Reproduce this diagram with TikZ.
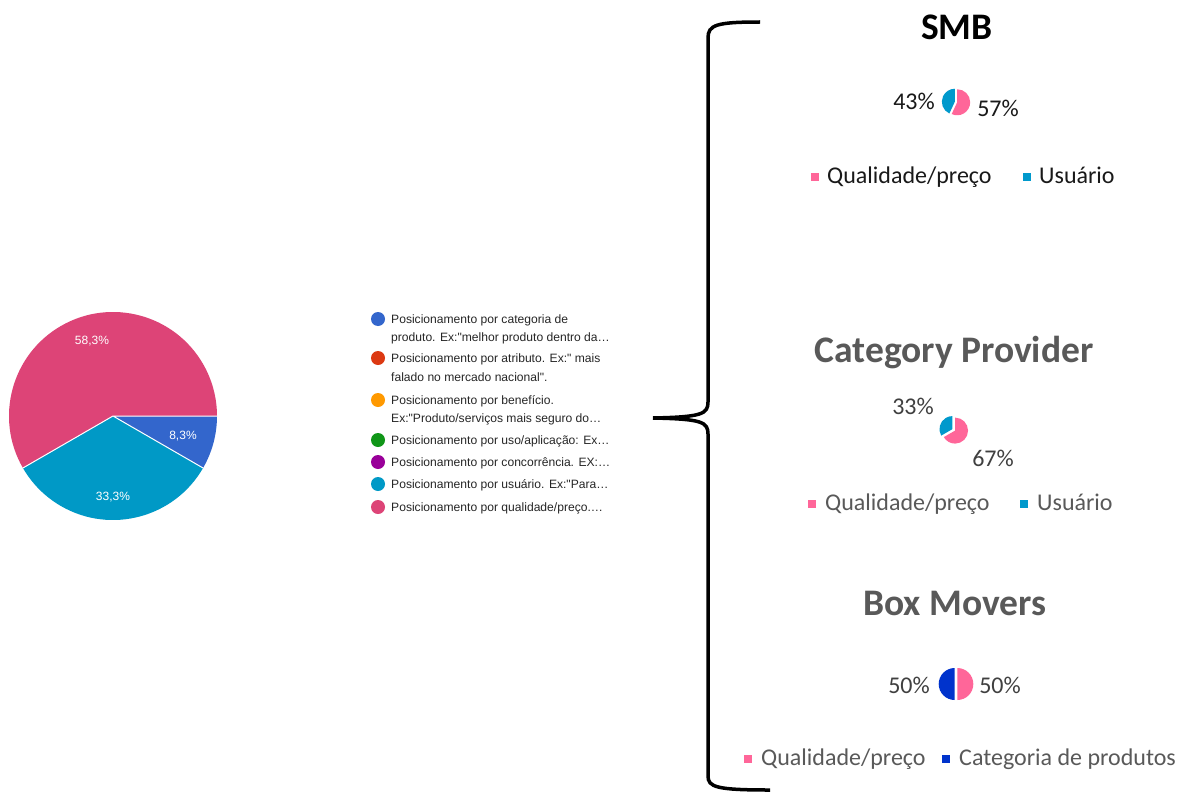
\documentclass[tikz,border=0pt]{standalone}
\usepackage{fontspec}
\setmainfont{Liberation Sans}
\newfontfamily\calfont{Carlito}
\newfontfamily\arialfont{Liberation Sans}
\definecolor{gblue}{HTML}{3366CC}
\definecolor{gred}{HTML}{DC3912}
\definecolor{gorange}{HTML}{FF9900}
\definecolor{ggreen}{HTML}{109618}
\definecolor{gpurple}{HTML}{990099}
\definecolor{gteal}{HTML}{0099C6}
\definecolor{gpink}{HTML}{DD4477}
\definecolor{mpink}{HTML}{FF6699}
\definecolor{mteal}{HTML}{0099CC}
\definecolor{mblue}{HTML}{0033CC}
\definecolor{dgray}{HTML}{404040}
\definecolor{tgray}{HTML}{595959}
\tikzset{
  piel/.style={text=white, font=\arialfont\fontsize{12}{14}\selectfont, inner sep=0pt},
  legl/.style={anchor=mid west, text=black!85, font=\arialfont\fontsize{12.1}{14}\selectfont, inner sep=0pt, yshift=-2pt},
  legdot/.style={circle, minimum size=14pt, inner sep=0pt},
  ttl/.style={font=\calfont\bfseries\fontsize{37.5}{42}\selectfont, inner sep=0pt},
  pct/.style={font=\calfont\fontsize{24}{28}\selectfont, inner sep=0pt},
  mleg/.style={anchor=mid west, font=\calfont\fontsize{24}{28}\selectfont, inner sep=0pt, yshift=-2pt},
  msq/.style={minimum size=8pt, inner sep=0pt},
}
\begin{document}
\begin{tikzpicture}[x=1pt,y=-1pt]
\useasboundingbox[fill=white] (0,0) rectangle (1191,792);

% big pie
\begin{scope}[shift={(113,416)},y=1pt]
\fill[gblue] (0,0) -- (0:104) arc[start angle=0,end angle=-30,radius=104] -- cycle;
\fill[gteal] (0,0) -- (-30:104) arc[start angle=-30,end angle=-150,radius=104] -- cycle;
\fill[gpink] (0,0) -- (-150:104) arc[start angle=-150,end angle=-360,radius=104] -- cycle;
\draw[white,line width=1pt] (0,0) -- (0:104) (0,0) -- (-30:104) (0,0) -- (-150:104);
\end{scope}
\node[piel] (p58) at (92,341) {58,3\%};
\node[piel] (p8) at (183,436) {8,3\%};
\node[piel] (p33) at (113,497) {33,3\%};

% legend
\node[legdot,fill=gblue] (d1) at (378,319) {};
\node[legl] (t1a) at (391,319) {Posicionamento por categoria de};
\node[legl] (t1b) at (391,337) {produto. Ex:"melhor produto dentro da\dots};
\node[legdot,fill=gred] (d2) at (378,358) {};
\node[legl] (t2a) at (391,358) {Posicionamento por atributo. Ex:" mais};
\node[legl] (t2b) at (391,377) {falado no mercado nacional".};
\node[legdot,fill=gorange] (d3) at (378,400) {};
\node[legl] (t3a) at (391,400) {Posicionamento por benefício.};
\node[legl] (t3b) at (391,418) {Ex:"Produto/serviços mais seguro do\dots};
\node[legdot,fill=ggreen] (d4) at (378,440) {};
\node[legl] (t4) at (391,440) {Posicionamento por uso/aplicação: Ex\dots};
\node[legdot,fill=gpurple] (d5) at (378,462) {};
\node[legl] (t5) at (391,462) {Posicionamento por concorrência. EX:\dots};
\node[legdot,fill=gteal] (d6) at (378,484) {};
\node[legl] (t6) at (391,484) {Posicionamento por usuário. Ex:"Para\dots};
\node[legdot,fill=gpink] (d7) at (378,507) {};
\node[legl] (t7) at (391,507) {Posicionamento por qualidade/preço.\dots};

% brace
\coordinate (btop) at (760,22);
\coordinate (btip) at (653,418);
\coordinate (bbot) at (770,790);
\draw[line width=3.5pt] (btop) .. controls (716,22) and (708,25) .. (708,38)
  -- (708,402) .. controls (708,414) and (702,417) .. (btip)
  (btip) .. controls (702,419) and (708,422) .. (708,434)
  -- (708,776) .. controls (708,787) and (716,790) .. (bbot);

% SMB
\node[ttl,text=black] (smb) at (957,27) {SMB};
\begin{scope}[shift={(956,102)},y=1pt]
\fill[mpink,shift={(-12.5:1.2)}] (0,0) -- (90:13) arc[start angle=90,end angle=-115,radius=13] -- cycle;
\fill[mteal,shift={(167.5:1.2)}] (0,0) -- (-115:13) arc[start angle=-115,end angle=-270,radius=13] -- cycle;
\end{scope}
\node[pct,text=black!90] (s43) at (914,101) {43\%};
\node[pct,text=black!90] (s57) at (998,108) {57\%};
\node[msq,fill=mpink] (sq1) at (815,177) {};
\node[mleg,text=black!90] (sl1) at (827,179) {Qualidade/preço};
\node[msq,fill=mteal] (sq2) at (1027,177) {};
\node[mleg,text=black!90] (sl2) at (1039,179) {Usuário};

% Category Provider
\node[ttl,text=tgray] (cp) at (954,353) {Category Provider};
\begin{scope}[shift={(954,430)},y=1pt]
\fill[mpink,shift={(-30:1.2)}] (0,0) -- (90:13) arc[start angle=90,end angle=-150,radius=13] -- cycle;
\fill[mteal,shift={(150:1.8)}] (0,0) -- (-150:13) arc[start angle=-150,end angle=-270,radius=13] -- cycle;
\end{scope}
\node[pct,text=dgray] (c33) at (913,406) {33\%};
\node[pct,text=dgray] (c67) at (993,458) {67\%};
\node[msq,fill=mpink] (sq3) at (812,504) {};
\node[mleg,text=tgray] (cl1) at (825,506) {Qualidade/preço};
\node[msq,fill=mteal] (sq4) at (1024,504) {};
\node[mleg,text=tgray] (cl2) at (1037,506) {Usuário};

% Box Movers
\node[ttl,text=tgray] (bm) at (955,603) {Box Movers};
\begin{scope}[shift={(956,684)},y=1pt]
\fill[mpink,shift={(0:1.3)}] (0,0) -- (90:16) arc[start angle=90,end angle=-90,radius=16] -- cycle;
\fill[mblue,shift={(180:1.3)}] (0,0) -- (90:16) arc[start angle=90,end angle=270,radius=16] -- cycle;
\end{scope}
\node[pct,text=dgray] (b50a) at (909,685) {50\%};
\node[pct,text=dgray] (b50b) at (1000,685) {50\%};
\node[msq,fill=mpink] (sq5) at (748,759) {};
\node[mleg,text=tgray] (bl1) at (761,761) {Qualidade/preço};
\node[msq,fill=mblue] (sq6) at (946,759) {};
\node[mleg,text=tgray] (bl2) at (959,761) {Categoria de produtos};
\end{tikzpicture}
\end{document}
